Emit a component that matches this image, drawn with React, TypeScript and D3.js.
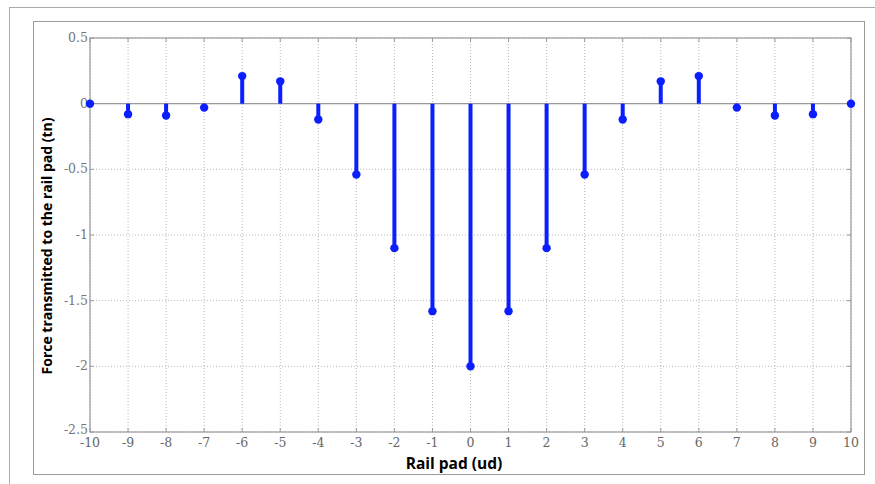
import React from "react";
import * as d3 from "d3";

// Rail pad positions and the force each one carries (tn)
const pads: number[] = [-10, -9, -8, -7, -6, -5, -4, -3, -2, -1, 0, 1, 2, 3, 4, 5, 6, 7, 8, 9, 10];
const forces: number[] = [0, -0.08, -0.09, -0.03, 0.21, 0.17, -0.12, -0.54, -1.1, -1.58, -2.0, -1.58, -1.1, -0.54, -0.12, 0.17, 0.21, -0.03, -0.09, -0.08, 0];
const yTicks: number[] = [0.5, 0, -0.5, -1, -1.5, -2, -2.5];
const xTicks: number[] = pads;

const W = 875;
const H = 484;
const plot = { left: 90, right: 851, top: 38, bottom: 432 };

export default function App() {
  const x = d3.scaleLinear().domain([-10, 10]).range([plot.left, plot.right]);
  const y = d3.scaleLinear().domain([-2.5, 0.5]).range([plot.bottom, plot.top]);
  const blue = "#0a1eff";
  const grid = "#b8b8b8";
  const frame = "#9a9a9a";
  const tickFont = "'DejaVu Serif', 'Liberation Serif', serif";
  const titleFont = "'Open Sans', 'DejaVu Sans', sans-serif";

  return (
    <svg
      width={W}
      height={H}
      style={{ position: "absolute", left: 0, top: 0, background: "#fff" }}
    >
      {/* outer panel borders */}
      <line x1={9} y1={7.5} x2={W} y2={7.5} stroke="#aaa" strokeWidth={1} />
      <line x1={9.5} y1={7} x2={9.5} y2={H} stroke="#aaa" strokeWidth={1} />
      <rect x={33.5} y={21.5} width={831} height={453} fill="#fff" stroke={frame} strokeWidth={1} />

      {/* grid */}
      {xTicks.map((t) => (
        <line
          key={"gx" + t}
          x1={x(t)}
          x2={x(t)}
          y1={plot.top}
          y2={plot.bottom}
          stroke={grid}
          strokeWidth={1}
          strokeDasharray="1,2"
        />
      ))}
      {yTicks.map((t) => (
        <line
          key={"gy" + t}
          x1={plot.left}
          x2={plot.right}
          y1={y(t)}
          y2={y(t)}
          stroke={grid}
          strokeWidth={1}
          strokeDasharray="1,2"
        />
      ))}

      {/* axes frame */}
      <rect
        x={plot.left}
        y={plot.top}
        width={plot.right - plot.left}
        height={plot.bottom - plot.top}
        fill="none"
        stroke={frame}
        strokeWidth={1.2}
      />
      {/* baseline */}
      <line x1={plot.left} x2={plot.right} y1={y(0)} y2={y(0)} stroke={frame} strokeWidth={1.2} />

      {/* tick marks */}
      {xTicks.map((t) => (
        <g key={"tx" + t}>
          <line x1={x(t)} x2={x(t)} y1={plot.bottom} y2={plot.bottom - 4} stroke={frame} />
          <line x1={x(t)} x2={x(t)} y1={plot.top} y2={plot.top + 4} stroke={frame} />
        </g>
      ))}
      {yTicks.map((t) => (
        <g key={"ty" + t}>
          <line x1={plot.left} x2={plot.left + 4} y1={y(t)} y2={y(t)} stroke={frame} />
          <line x1={plot.right} x2={plot.right - 4} y1={y(t)} y2={y(t)} stroke={frame} />
        </g>
      ))}

      {/* tick labels */}
      {xTicks.map((t) => (
        <text
          key={"lx" + t}
          x={x(t)}
          y={plot.bottom + 15}
          textAnchor="middle"
          fontFamily={tickFont}
          fontSize={12.5}
          fill="#666"
        >
          {t}
        </text>
      ))}
      {yTicks.map((t) => (
        <text
          key={"ly" + t}
          x={plot.left - 2}
          y={y(t) + (t === -2.5 ? 2 : 4)}
          textAnchor="end"
          fontFamily={tickFont}
          fontSize={12.5}
          fill="#777"
        >
          {t}
        </text>
      ))}

      {/* stems */}
      {pads.map((p, i) => (
        <line
          key={"s" + p}
          x1={x(p)}
          x2={x(p)}
          y1={y(0)}
          y2={y(forces[i])}
          stroke={blue}
          strokeWidth={4}
        />
      ))}
      {pads.map((p, i) => (
        <circle key={"m" + p} cx={x(p)} cy={y(forces[i])} r={4.2} fill={blue} />
      ))}

      {/* axis titles */}
      <text
        x={454}
        y={469}
        textAnchor="middle"
        fontFamily={titleFont}
        fontWeight="bold"
        fontSize={15.5}
        fill="#000"
      >
        Rail pad (ud)
      </text>
      <text
        transform={`translate(52, 246) rotate(-90)`}
        textAnchor="middle"
        fontFamily={titleFont}
        fontWeight="bold"
        fontSize={14}
        fill="#000"
      >
        Force transmitted to the rail pad (tn)
      </text>
    </svg>
  );
}
